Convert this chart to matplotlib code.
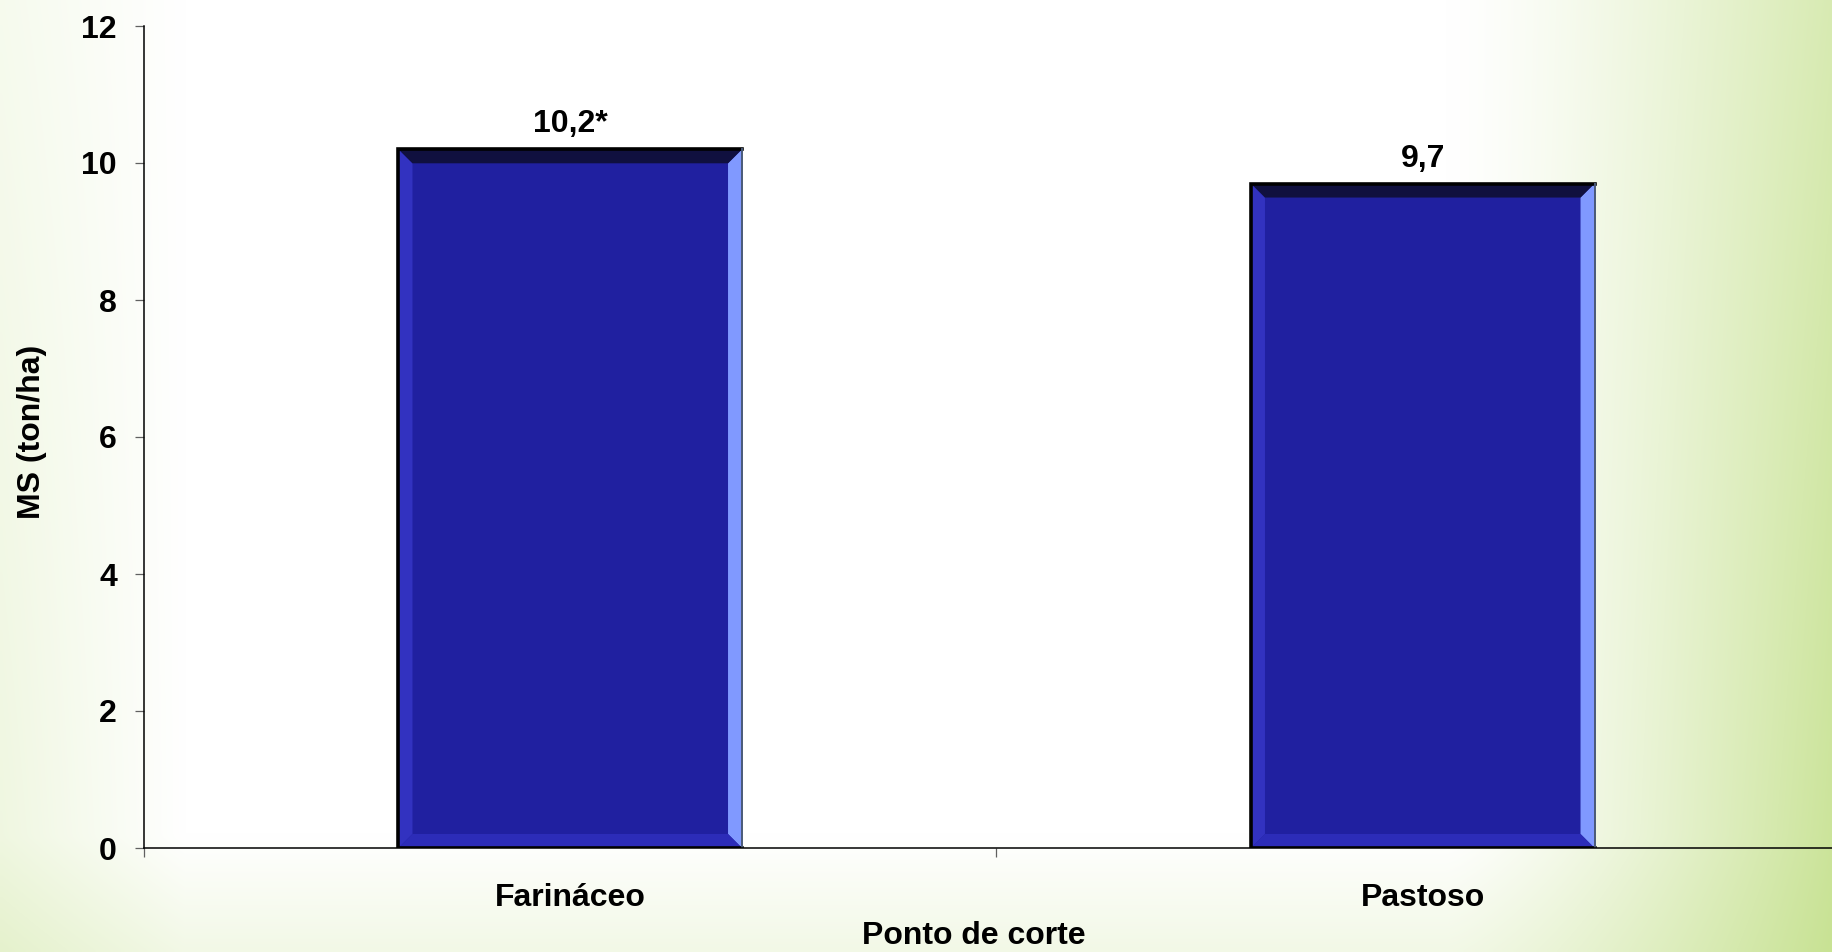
import matplotlib.pyplot as plt
import numpy as np
from matplotlib.patches import Polygon

plt.rcParams['font.family'] = ['Liberation Sans', 'DejaVu Sans']
plt.rcParams['font.weight'] = 'bold'

categories = ['Farináceo', 'Pastoso']
values = [10.2, 9.7]
value_labels = ['10,2*', '9,7']
yticks = [0, 2, 4, 6, 8, 10, 12]

W, H = 1833, 952
fig = plt.figure(figsize=(W / 100, H / 100), dpi=100)

# -------------------------------------------------------------------------------------
# background: white slide with green wash on the sides
# -------------------------------------------------------------------------------------
bg = fig.add_axes([0, 0, 1, 1], zorder=-5)
gx, gy = np.meshgrid(np.linspace(0, 1, 400), np.linspace(0, 1, 220))
r = np.clip((gx - 0.79) / 0.21, 0, 1) ** 1.3 * (0.62 + 0.22 * gy)
l = np.clip((0.1 - gx) / 0.1, 0, 1) * (0.14 + 0.12 * gy)
b = np.clip((gy - 0.88) / 0.12, 0, 1) * 0.2
w = 1 - (1 - r) * (1 - l) * (1 - b)
green = np.array([192, 222, 132]) / 255.0
img = (1 - w[..., None]) * 1.0 + w[..., None] * green
bg.imshow(img, aspect='auto', extent=[0, 1, 1, 0], interpolation='bilinear')
bg.set_xlim(0, 1)
bg.set_ylim(1, 0)
bg.axis('off')

# -------------------------------------------------------------------------------------
# bar chart
# -------------------------------------------------------------------------------------
ax_left, ax_right = 144, 1849
ax_top, ax_bottom = 26, 848
ax = fig.add_axes([ax_left / W, (H - ax_bottom) / H,
                   (ax_right - ax_left) / W, (ax_bottom - ax_top) / H])
ax.set_facecolor('none')

x = np.arange(len(categories))
bw = 0.403
bars = ax.bar(x, values, width=bw, color='#2020a0', edgecolor='none', zorder=2)
ax.set_xlim(-0.5, len(categories) - 0.5)
ax.set_ylim(0, 12)

# bevel size in data units
px_x = (ax_right - ax_left) / (len(categories))
px_y = (ax_bottom - ax_top) / 12.0
t = 14
tx, ty = t / px_x, t / px_y

for bar in bars:
    x0 = bar.get_x()
    x1 = x0 + bar.get_width()
    h = bar.get_height()
    ax.add_patch(Polygon([(x0, 0), (x0 + tx, ty), (x0 + tx, h - ty), (x0, h)],
                         closed=True, fc='#3232c0', ec='none', zorder=3))
    ax.add_patch(Polygon([(x1, 0), (x1, h), (x1 - tx, h - ty), (x1 - tx, ty)],
                         closed=True, fc='#8099ff', ec='none', zorder=3))
    ax.add_patch(Polygon([(x0, h), (x1, h), (x1 - tx, h - ty), (x0 + tx, h - ty)],
                         closed=True, fc='#10103f', ec='none', zorder=3))
    ax.add_patch(Polygon([(x0, 0), (x1, 0), (x1 - tx, ty), (x0 + tx, ty)],
                         closed=True, fc='#2c2cb8', ec='none', zorder=3))
    ax.plot([x1, x0, x0, x1], [h, h, 0, 0], color='black', lw=2.6,
            solid_joinstyle='miter', zorder=4)
    ax.plot([x1, x1], [0, h], color='#4a5a78', lw=1.4, zorder=4)

for xi, v, lab in zip(x, values, value_labels):
    ax.annotate(lab, (xi, v), xytext=(0, 12.2), textcoords='offset points',
                ha='center', va='baseline', fontsize=23, fontweight='bold')

ax.spines['top'].set_visible(False)
ax.spines['right'].set_visible(False)
ax.spines['left'].set_linewidth(1.1)
ax.spines['bottom'].set_linewidth(1.1)
ax.spines['left'].set_zorder(5)
ax.spines['bottom'].set_zorder(5)

ax.set_yticks(yticks)
ax.set_yticklabels([str(v) for v in yticks])
ax.tick_params(axis='y', direction='out', length=6.5, width=0.9, color='#606060',
               pad=13, labelsize=23)

ax.set_xticks([-0.5, 0.5, 1.5])
ax.set_xticklabels(['', '', ''])
ax.tick_params(axis='x', which='major', direction='out', length=6.5, width=0.9,
               color='#606060')
ax.set_xticks(x, minor=True)
ax.set_xticklabels(categories, minor=True)
ax.tick_params(axis='x', which='minor', length=0, pad=41.8, labelsize=23)
for lbl in ax.get_xticklabels(minor=True):
    lbl.set_verticalalignment('baseline')
    lbl.set_fontweight('bold')
for lbl in ax.get_yticklabels():
    lbl.set_fontweight('bold')

fig.text(32 / W, (H - 432) / H, 'MS (ton/ha)', rotation=90, ha='center',
         va='center', fontsize=23, fontweight='bold')
fig.text(974 / W, (H - 944) / H, 'Ponto de corte', ha='center', va='baseline',
         fontsize=23, fontweight='bold')

fig.savefig('out.png', dpi=100)
